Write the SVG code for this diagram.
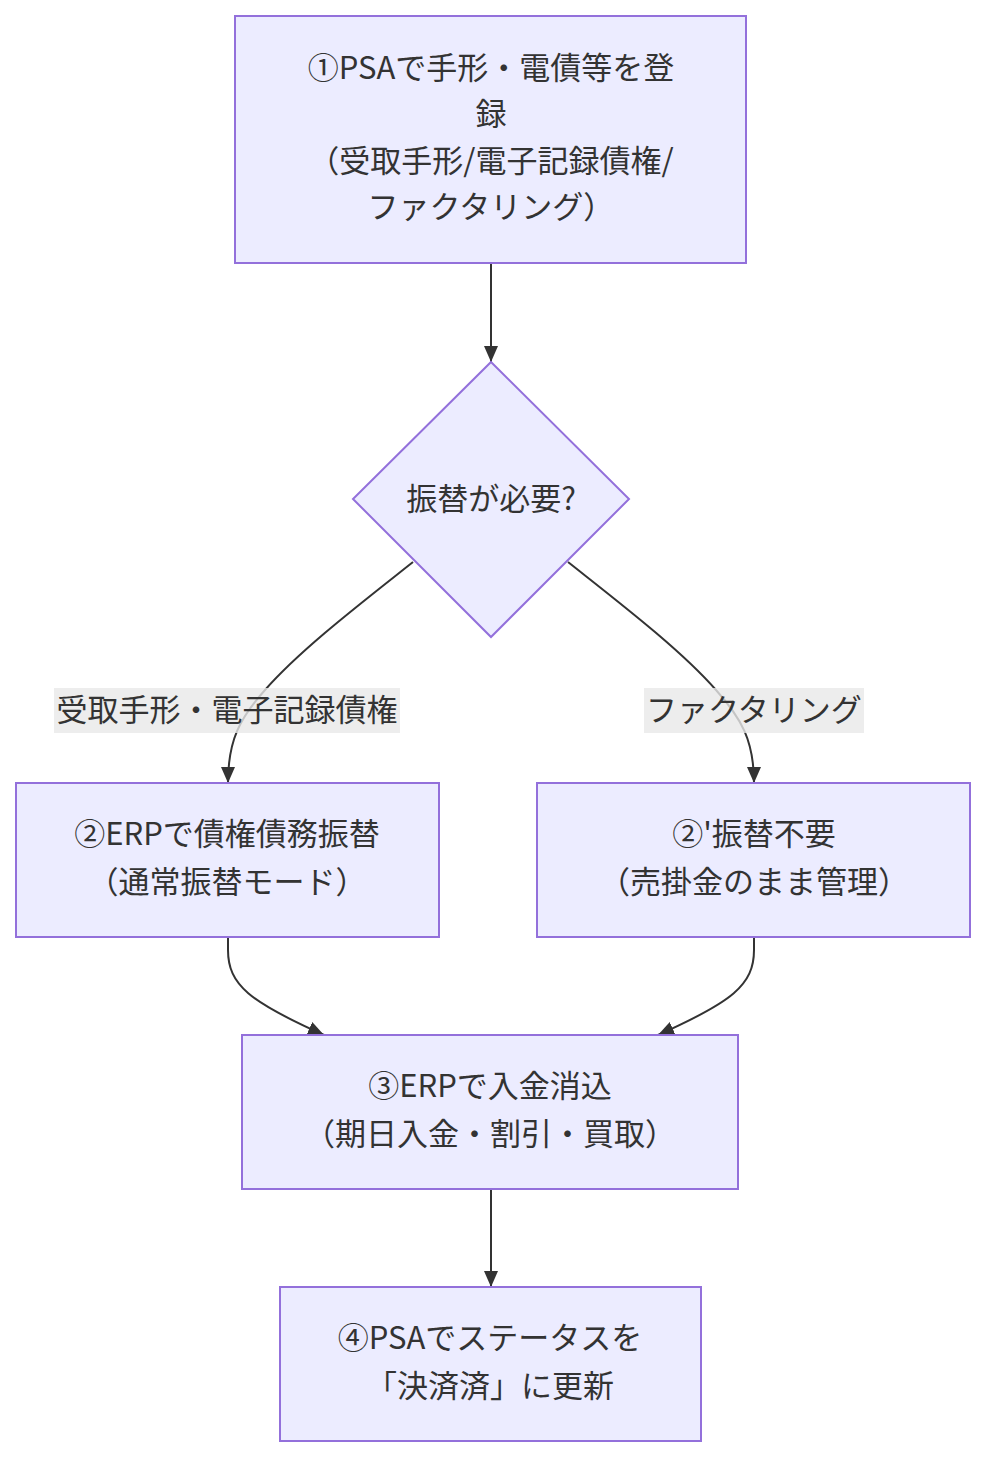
<svg xmlns="http://www.w3.org/2000/svg" width="1002" height="1480" viewBox="0 0 1002 1480">
<defs>
<style>
.node rect, .node polygon { fill: #ECECFF; stroke: #9370DB; stroke-width: 2; }
.t { font-family: "Noto Sans CJK JP", "Noto Sans", sans-serif; font-size: 31px; fill: #333333; text-anchor: middle; }
.edge { fill: none; stroke: #333333; stroke-width: 2; }
.lbl { fill: rgba(232,232,232,0.8); }
</style>
<marker id="arr" viewBox="0 0 10 10" refX="10" refY="5" markerUnits="userSpaceOnUse" markerWidth="16" markerHeight="14" orient="auto" preserveAspectRatio="none">
<path d="M0,0 L10,5 L0,10 z" fill="#333333"/>
</marker>
</defs>
<rect width="1002" height="1480" fill="#ffffff"/>
<g id="connectors">
<path class="edge" d="M491,264 L491,362" marker-end="url(#arr)"/>
<path class="edge" d="M413,562 C360,604 300,650 265,690 C240,718 228,740 228,783" marker-end="url(#arr)"/>
<path class="edge" d="M568,562 C621,604 681,650 716,690 C741,718 754,740 754,783" marker-end="url(#arr)"/>
<path class="edge" d="M228,937 L228,950 C228,985 250,1002 324,1035" marker-end="url(#arr)"/>
<path class="edge" d="M754,937 L754,950 C754,985 732,1002 658,1035" marker-end="url(#arr)"/>
<path class="edge" d="M491,1189 L491,1287" marker-end="url(#arr)"/>
<g id="label-left">
<rect class="lbl" x="54" y="688" width="346" height="45"/>
<text class="t" x="227" y="721">受取手形・電子記録債権</text>
</g>
<g id="label-right">
<rect class="lbl" x="644" y="688" width="220" height="45"/>
<text class="t" x="754" y="721">ファクタリング</text>
</g>
</g>
<g id="nodeA" class="node">
<rect x="235" y="16" width="511" height="247"/>
<text class="t" x="491" y="79">①PSAで手形・電債等を登</text>
<text class="t" x="491" y="125">録</text>
<text class="t" x="491" y="172">（受取手形/電子記録債権/</text>
<text class="t" x="491" y="218">ファクタリング）</text>
</g>
<g id="nodeDecision" class="node">
<polygon points="491,362 629,499 491,637 353,499"/>
<text class="t" x="491" y="510">振替が必要?</text>
</g>
<g id="nodeB" class="node">
<rect x="16" y="783" width="423" height="154"/>
<text class="t" x="227" y="845">②ERPで債権債務振替</text>
<text class="t" x="227" y="893">（通常振替モード）</text>
</g>
<g id="nodeC" class="node">
<rect x="537" y="783" width="433" height="154"/>
<text class="t" x="754" y="845">②'振替不要</text>
<text class="t" x="754" y="893">（売掛金のまま管理）</text>
</g>
<g id="nodeD" class="node">
<rect x="242" y="1035" width="496" height="154"/>
<text class="t" x="490" y="1097">③ERPで入金消込</text>
<text class="t" x="490" y="1145">（期日入金・割引・買取）</text>
</g>
<g id="nodeE" class="node">
<rect x="280" y="1287" width="421" height="154"/>
<text class="t" x="490" y="1349">④PSAでステータスを</text>
<text class="t" x="490" y="1397">「決済済」に更新</text>
</g>
</svg>
